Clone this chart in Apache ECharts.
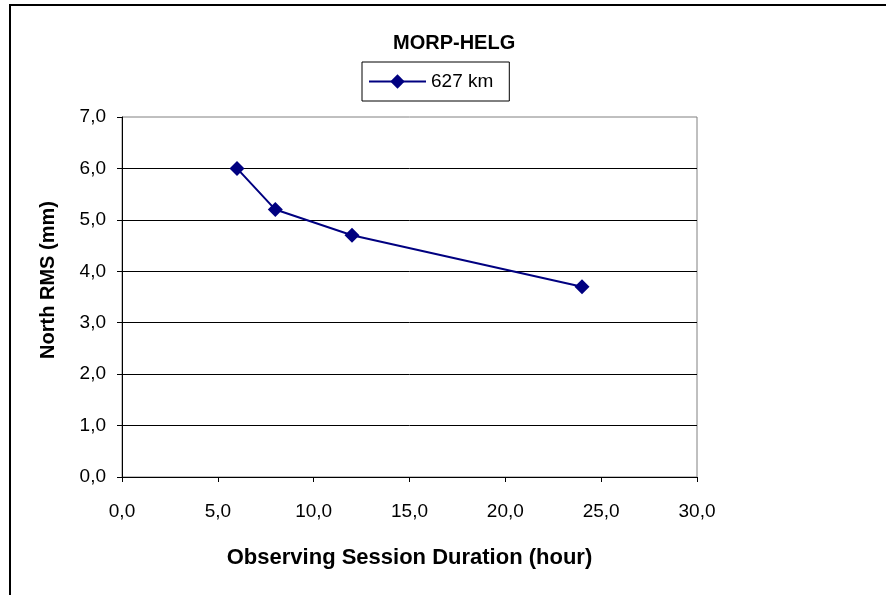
<!DOCTYPE html>
<html>
<head>
<meta charset="utf-8">
<script src="https://cdn.jsdelivr.net/npm/echarts@6/dist/echarts.min.js"></script>
<style>
  html, body { margin: 0; padding: 0; background: #fff; }
  #chart { width: 886px; height: 595px; }
</style>
</head>
<body>
<div id="chart"></div>
<script>
var hours = [6, 8, 12, 24];
var northRms = [6.0, 5.2, 4.7, 3.7];
var seriesName = '627 km';

var font = '"Liberation Sans", Arial, sans-serif';

function comma(v) {
  return v.toFixed(1).replace('.', ',');
}

var chart = echarts.init(document.getElementById('chart'));

var option = {
  backgroundColor: '#fff',
  animation: false,
  title: {
    text: 'MORP-HELG',
    left: 388,
    top: 28,
    textStyle: { fontFamily: font, fontSize: 20, fontWeight: 'bold', color: '#000' }
  },
  legend: {
    data: [seriesName],
    left: 362,
    top: 62,
    padding: [10, 16, 10, 6],
    borderColor: '#000',
    borderWidth: 1,
    itemWidth: 57,
    itemHeight: 18,
    itemGap: 6,
    textStyle: { fontFamily: font, fontSize: 19, color: '#000' }
  },
  grid: {
    left: 122,
    top: 117,
    right: 189,
    bottom: 118,
    show: true,
    borderColor: '#808080',
    borderWidth: 1
  },
  xAxis: {
    type: 'value',
    min: 0,
    max: 30,
    interval: 5,
    name: 'Observing Session Duration (hour)',
    nameLocation: 'middle',
    nameGap: 70,
    nameTextStyle: { fontFamily: font, fontSize: 22, fontWeight: 'bold', color: '#000' },
    axisLine: { show: true, lineStyle: { color: '#000', width: 1 } },
    axisTick: { show: true, length: 5, lineStyle: { color: '#000' } },
    axisLabel: { margin: 25, fontFamily: font, fontSize: 19, color: '#000', formatter: comma },
    splitLine: { show: false }
  },
  yAxis: {
    type: 'value',
    min: 0,
    max: 7,
    interval: 1,
    axisLine: { show: true, lineStyle: { color: '#000', width: 1 } },
    axisTick: { show: true, length: 5, lineStyle: { color: '#000' } },
    axisLabel: { margin: 16, fontFamily: font, fontSize: 19, color: '#000', formatter: comma },
    splitLine: { show: true, showMaxLine: false, lineStyle: { color: '#000', width: 1 } }
  },
  graphic: [
    {
      type: 'rect',
      silent: true,
      shape: { x: 10, y: 5, width: 900, height: 700 },
      style: { fill: 'none', stroke: '#000', lineWidth: 2 }
    },
    {
      type: 'text',
      x: 48,
      y: 280,
      rotation: Math.PI / 2,
      style: {
        text: 'North RMS (mm)',
        fontFamily: font,
        fontSize: 20,
        fontWeight: 'bold',
        fill: '#000',
        align: 'center',
        verticalAlign: 'middle'
      }
    }
  ],
  series: [{
    name: seriesName,
    type: 'line',
    data: hours.map(function (h, i) { return [h, northRms[i]]; }),
    symbol: 'diamond',
    symbolSize: 15,
    color: '#000080',
    lineStyle: { color: '#000080', width: 2 },
    itemStyle: { color: '#000080' }
  }]
};

chart.setOption(option);
</script>
</body>
</html>
